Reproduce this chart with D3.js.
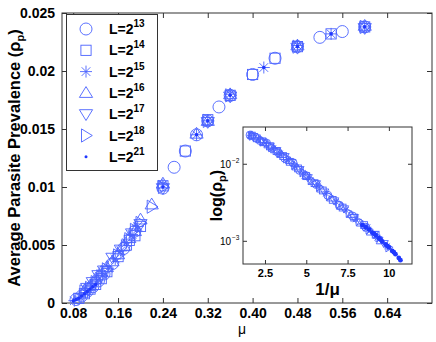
<!DOCTYPE html>
<html><head><meta charset="utf-8">
<script src="https://cdn.jsdelivr.net/npm/d3@7"></script>
<style>html,body{margin:0;padding:0;background:#fff;}svg{display:block;font-family:"Liberation Sans",Arial,Helvetica,sans-serif;}</style>
</head><body>
<script>
// ---------- DATA ----------
const seriesNames = ["13","14","15","16","17","18","21"];
const seriesShapes = ["circle","square","asterisk","triUp","triDown","triRight","dot"];
// main panel: [mu, rho]
const L13 = [[0.085,0.0003],[0.095,0.0006],[0.105,0.0010],[0.115,0.0014],[0.125,0.0019],[0.135,0.0025],[0.15,0.0034],[0.17,0.0047],[0.19,0.0062],[0.24,0.0099],[0.26,0.0117],[0.28,0.0131],[0.30,0.0145],[0.32,0.0157],[0.34,0.0169],[0.36,0.0179],[0.40,0.0197],[0.44,0.0211],[0.48,0.0221],[0.52,0.0229],[0.56,0.0234],[0.60,0.0238]];
const L14 = [[0.09,0.0004],[0.10,0.0008],[0.11,0.0012],[0.12,0.0016],[0.13,0.0021],[0.14,0.0027],[0.16,0.0040],[0.175,0.0050],[0.18,0.0054],[0.19,0.0058],[0.20,0.0066],[0.24,0.0101],[0.28,0.0131],[0.32,0.0158],[0.36,0.0179],[0.40,0.0197],[0.44,0.0211],[0.48,0.0221],[0.54,0.0232],[0.60,0.0238]];
const L15 = [[0.082,0.0002],[0.092,0.0005],[0.102,0.0009],[0.112,0.0014],[0.122,0.0019],[0.132,0.0024],[0.142,0.0030],[0.155,0.0038],[0.165,0.0045],[0.175,0.0052],[0.185,0.0059],[0.195,0.0066],[0.24,0.0102],[0.30,0.0145],[0.32,0.0157],[0.36,0.0180],[0.42,0.0203],[0.48,0.0222],[0.54,0.0232],[0.60,0.0238]];
const L16 = [[0.10,0.0011],[0.11,0.0015],[0.12,0.0021],[0.13,0.0027],[0.14,0.0031],[0.15,0.0036],[0.16,0.0042],[0.17,0.0049],[0.18,0.0056],[0.19,0.0062],[0.20,0.0072],[0.22,0.0085],[0.24,0.0103],[0.30,0.0146],[0.32,0.0157],[0.36,0.0180],[0.48,0.0222],[0.60,0.0239]];
const L17 = [[0.105,0.0013],[0.115,0.0018],[0.125,0.0024],[0.135,0.0028],[0.15,0.0039],[0.165,0.0046],[0.185,0.0060],[0.20,0.0068],[0.24,0.0099],[0.32,0.0156],[0.36,0.0178],[0.48,0.0220],[0.60,0.0237]];
const L18 = [[0.10,0.0010],[0.11,0.0013],[0.12,0.0018],[0.13,0.0023],[0.14,0.0029],[0.16,0.0041],[0.18,0.0055],[0.19,0.0063],[0.20,0.0069],[0.22,0.0083],[0.24,0.0100],[0.32,0.0157],[0.36,0.0179],[0.48,0.0221],[0.60,0.0238]];
const L21 = [[0.08,0.0002],[0.085,0.0003],[0.09,0.0004],[0.095,0.0006],[0.10,0.0008],[0.105,0.0010],[0.11,0.0012],[0.115,0.0014],[0.12,0.0016],[0.24,0.0100],[0.30,0.0145],[0.32,0.0157],[0.36,0.0179],[0.42,0.0203],[0.48,0.0221],[0.54,0.0232],[0.60,0.0238]];
// inset: [1/mu, rho]
const I13 = [[1.6,0.0236],[1.9,0.0222],[2.2,0.0200],[2.6,0.0185],[2.9,0.0160],[3.3,0.0140],[3.7,0.0118],[4.2,0.0103],[4.6,0.0082],[5.0,0.0070],[5.6,0.0054],[6.3,0.0039],[7.0,0.0029],[7.8,0.0021],[8.6,0.0015]];
const I14 = [[1.7,0.0232],[2.0,0.0214],[2.4,0.0190],[2.8,0.0168],[3.2,0.0146],[3.6,0.0126],[4.0,0.0106],[4.5,0.0087],[5.0,0.0069],[5.5,0.0056],[6.0,0.0045],[6.6,0.0034],[7.2,0.0027],[7.9,0.0020],[8.5,0.0016],[9.2,0.0012]];
const I15 = [[1.65,0.0234],[2.1,0.0208],[2.5,0.0186],[3.0,0.0158],[3.4,0.0136],[3.9,0.0112],[4.3,0.0094],[4.8,0.0076],[5.1,0.0067],[5.7,0.0052],[6.2,0.0041],[6.8,0.0032],[7.4,0.0025],[8.0,0.0019],[8.7,0.0015],[9.3,0.0011],[9.9,0.00085]];
const I16 = [[1.7,0.0236],[2.2,0.0206],[2.7,0.0176],[3.1,0.0152],[3.5,0.0132],[4.0,0.0110],[4.4,0.0091],[5.0,0.0070],[5.4,0.0059],[5.9,0.0047],[6.5,0.0036],[7.1,0.0028],[7.7,0.0022],[8.3,0.0017],[8.9,0.0013],[9.5,0.0010]];
const I17 = [[1.8,0.0226],[2.3,0.0198],[2.8,0.0170],[3.2,0.0148],[3.7,0.0124],[4.1,0.0104],[4.6,0.0084],[5.1,0.0066],[5.6,0.0055],[6.1,0.0043],[6.7,0.0033],[7.3,0.0026],[7.9,0.0020],[8.5,0.0015],[9.1,0.0012],[9.7,0.00092]];
const I18 = [[1.75,0.0230],[2.4,0.0194],[2.9,0.0164],[3.4,0.0138],[3.8,0.0117],[4.3,0.0096],[4.8,0.0077],[5.3,0.0061],[5.8,0.0050],[6.4,0.0038],[7.0,0.0030],[7.6,0.0023],[8.2,0.0018],[8.8,0.0014],[9.4,0.0011],[10.0,0.00082]];
const I21 = [[8.4,0.00160],[8.6,0.00150],[8.8,0.00140],[9.0,0.00128],[9.2,0.00118],[9.4,0.00108],[9.6,0.00098],[9.8,0.00090],[10.0,0.00082],[10.2,0.00074],[10.4,0.00067],[10.6,0.00060],[10.7,0.00056],[9.1,0.00124],[9.5,0.00104],[9.9,0.00086],[10.3,0.00071]];
const xTicks = [0.08,0.16,0.24,0.32,0.40,0.48,0.56,0.64];
const yTicks = [0,0.005,0.01,0.015,0.02,0.025];
const ixTicks = [2.5,5,7.5,10];
const iyTicks = [1e-3,1e-2];

const mainSeries = [L13,L14,L15,L16,L17,L18,L21];
const insetSeries = [I13,I14,I15,I16,I17,I18,I21];

// ---------- DRAW ----------
const W=436,H=342;
const col="#4a62ff", dotCol="#2038ff";
const svg=d3.select("body").append("svg").attr("width",W).attr("height",H);
svg.append("rect").attr("width",W).attr("height",H).attr("fill","#fff");

function marker(g, shape, r){
  if(shape==="circle") return g.append("circle").attr("r",r).attr("fill","none").attr("stroke",col).attr("stroke-width",0.9);
  if(shape==="square") return g.append("rect").attr("x",-r*0.85).attr("y",-r*0.85).attr("width",r*1.7).attr("height",r*1.7).attr("fill","none").attr("stroke",col).attr("stroke-width",0.9);
  if(shape==="asterisk"){
    const a=r, b=r*0.72;
    return g.append("path").attr("d",`M${-a},0L${a},0M0,${-a}L0,${a}M${-b},${-b}L${b},${b}M${-b},${b}L${b},${-b}`).attr("stroke",col).attr("stroke-width",0.9).attr("fill","none");
  }
  if(shape==="triUp"||shape==="triDown"||shape==="triRight"){
    const rot = shape==="triUp"?0:(shape==="triDown"?180:90);
    const p=`M0,${-r*1.05}L${r*1.1},${r*0.75}L${-r*1.1},${r*0.75}Z`;
    return g.append("path").attr("d",p).attr("transform",`rotate(${rot})`).attr("fill","none").attr("stroke",col).attr("stroke-width",0.9);
  }
  if(shape==="dot") return g.append("circle").attr("r",Math.max(1.4,r*0.3)).attr("fill",dotCol);
}

// main panel
const M={l:62,t:13,r:432,b:303};
const x=d3.scaleLinear().domain([0.06,0.72]).range([M.l,M.r]);
const y=d3.scaleLinear().domain([0,0.025]).range([M.b,M.t]);
const axCol="#333";
const main=svg.append("g");
const fmt=d=>String(+d.toFixed(3));
main.append("g").attr("transform",`translate(0,${M.b})`).call(d3.axisBottom(x).tickValues(xTicks).tickSize(-5).tickPadding(5).tickFormat(d=>d.toFixed(2)))
  .call(g=>{g.select(".domain").remove();g.selectAll("line").attr("stroke",axCol);g.selectAll("text").attr("font-size",14).attr("font-weight","bold").attr("fill","#000").attr("font-family","Liberation Sans, Arial, sans-serif");});
main.append("g").attr("transform",`translate(0,${M.t})`).call(d3.axisTop(x).tickValues(xTicks).tickSize(-5).tickFormat(""))
  .call(g=>{g.select(".domain").remove();g.selectAll("line").attr("stroke",axCol);});
main.append("g").attr("transform",`translate(${M.l},0)`).call(d3.axisLeft(y).tickValues(yTicks).tickSize(-5).tickPadding(7).tickFormat(fmt))
  .call(g=>{g.select(".domain").remove();g.selectAll("line").attr("stroke",axCol);g.selectAll("text").attr("font-size",14).attr("font-weight","bold").attr("fill","#000").attr("font-family","Liberation Sans, Arial, sans-serif");});
main.append("g").attr("transform",`translate(${M.r},0)`).call(d3.axisRight(y).tickValues(yTicks).tickSize(-5).tickFormat(""))
  .call(g=>{g.select(".domain").remove();g.selectAll("line").attr("stroke",axCol);});
main.append("rect").attr("x",M.l).attr("y",M.t).attr("width",M.r-M.l).attr("height",M.b-M.t).attr("fill","none").attr("stroke",axCol).attr("stroke-width",1);

mainSeries.forEach((s,i)=>{
  s.forEach(d=>{
    const g=main.append("g").attr("transform",`translate(${x(d[0])},${y(d[1])})`);
    marker(g,seriesShapes[i],6);
  });
});

// axis labels
svg.append("text").attr("x",(M.l+M.r)/2-5).attr("y",334).attr("text-anchor","middle").attr("font-size",14).text("μ");
const yl=svg.append("text").attr("transform",`translate(20,${(M.t+M.b)/2}) rotate(-90)`).attr("text-anchor","middle").attr("font-size",16.5).attr("font-weight","bold");
yl.append("tspan").text("Average Parasite Prevalence (ρ");
yl.append("tspan").attr("font-size",11).attr("dy",4).text("p");
yl.append("tspan").attr("dy",-4).text(")");

// legend
const lg=svg.append("g");
lg.append("rect").attr("x",66.5).attr("y",14.5).attr("width",91).attr("height",156).attr("fill","#fff").attr("stroke",axCol);
seriesNames.forEach((n,i)=>{
  const cy=29+i*21.3;
  const g=lg.append("g").attr("transform",`translate(86,${cy})`);
  marker(g,seriesShapes[i],i===6?5:6);
  const t=lg.append("text").attr("x",109).attr("y",cy+5).attr("font-size",14).attr("font-weight","bold");
  t.append("tspan").text("L=2");
  t.append("tspan").attr("font-size",10).attr("dy",-7).text(n);
});

// inset
const N={l:243,t:127,r:412,b:264};
const ix=d3.scaleLinear().domain([1.17,11.4]).range([N.l,N.r]);
const iy=d3.scaleLog().domain([0.0005,0.03]).range([N.b,N.t]);
const ins=svg.append("g");
ins.append("rect").attr("x",N.l).attr("y",N.t).attr("width",N.r-N.l).attr("height",N.b-N.t).attr("fill","#fff");
svg.append("clipPath").attr("id","ic").append("rect").attr("x",N.l).attr("y",N.t).attr("width",N.r-N.l).attr("height",N.b-N.t);
ins.append("g").attr("transform",`translate(0,${N.b})`).call(d3.axisBottom(ix).tickValues(ixTicks).tickSize(-4).tickPadding(5).tickFormat(d=>String(d)))
  .call(g=>{g.select(".domain").remove();g.selectAll("line").attr("stroke",axCol);g.selectAll("text").attr("font-size",11).attr("font-weight","bold").attr("fill","#000").attr("font-family","Liberation Sans, Arial, sans-serif");});
ins.append("g").attr("transform",`translate(0,${N.t})`).call(d3.axisTop(ix).tickValues(ixTicks).tickSize(-4).tickFormat(""))
  .call(g=>{g.select(".domain").remove();g.selectAll("line").attr("stroke",axCol);});
ins.append("g").attr("transform",`translate(${N.l},0)`).call(d3.axisLeft(iy).tickValues(iyTicks).tickSize(-4).tickFormat(""))
  .call(g=>{g.select(".domain").remove();g.selectAll("line").attr("stroke",axCol);});
ins.append("g").attr("transform",`translate(${N.r},0)`).call(d3.axisRight(iy).tickValues(iyTicks).tickSize(-4).tickFormat(""))
  .call(g=>{g.select(".domain").remove();g.selectAll("line").attr("stroke",axCol);});
iyTicks.forEach(v=>{
  ins.append("text").attr("x",N.l-12).attr("y",iy(v)+4).attr("text-anchor","end").attr("font-size",10).text("10");
  const e=Math.round(Math.log10(v));
  ins.append("text").attr("x",N.l-11).attr("y",iy(v)-1).attr("text-anchor","start").attr("font-size",6.5).text(String(e).replace("-","\u2212"));
});
const pts=ins.append("g").attr("clip-path","url(#ic)");
insetSeries.forEach((s,i)=>{
  s.forEach(d=>{
    const g=pts.append("g").attr("transform",`translate(${ix(d[0])},${iy(d[1])})`);
    marker(g,seriesShapes[i],i===6?8:4);
  });
});
ins.append("rect").attr("x",N.l).attr("y",N.t).attr("width",N.r-N.l).attr("height",N.b-N.t).attr("fill","none").attr("stroke",axCol);
const il=svg.append("text").attr("transform",`translate(222,${(N.t+N.b)/2}) rotate(-90)`).attr("text-anchor","middle").attr("font-size",16).attr("font-weight","bold");
il.append("tspan").text("log(ρ");
il.append("tspan").attr("font-size",11).attr("dy",4).text("p");
il.append("tspan").attr("dy",-4).text(")");
svg.append("text").attr("x",(N.l+N.r)/2).attr("y",295).attr("text-anchor","middle").attr("font-size",17).attr("font-weight","bold").text("1/μ");
</script>
</body></html>
